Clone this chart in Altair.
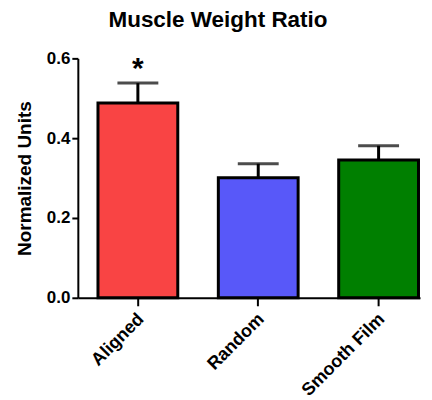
import altair as alt
import pandas as pd

categories = ["Aligned", "Random", "Smooth Film"]
means = [0.488, 0.301, 0.345]
errors = [0.050, 0.035, 0.036]
colors = ["#F94444", "#5858F9", "#007F00"]
marks = ["*", "", ""]

df = pd.DataFrame({
    "cat": categories,
    "mean": means,
    "upper": [m + e for m, e in zip(means, errors)],
    "sig": marks,
})

FONT = "Liberation Sans"

x = alt.X("cat:N", sort=categories, title=None,
          scale=alt.Scale(paddingInner=0.337, paddingOuter=0.09, align=0.93),
          axis=alt.Axis(labelAngle=-45, labelFontSize=18, labelFontWeight="bold",
                        labelColor="black", tickSize=8, tickWidth=2, tickColor="black",
                        domainColor="black", domainWidth=2, labelPadding=4,
                        labelOffset=-3, labelFont=FONT))

y_scale = alt.Scale(domain=[0, 0.6], nice=False)

base = alt.Chart(df)

bars = base.mark_bar(stroke="black", strokeWidth=3).encode(
    x=x,
    y=alt.Y("mean:Q", scale=y_scale, title="Normalized Units",
            axis=alt.Axis(values=[0, 0.2, 0.4, 0.6], format=".1f", grid=False,
                          labelFontSize=17, labelFontWeight="bold", labelColor="black",
                          labelFont=FONT, titleFont=FONT,
                          titleFontSize=19, titleFontWeight="bold", titleColor="black",
                          tickSize=6, tickWidth=2, tickColor="black",
                          domainColor="black", domainWidth=2, labelPadding=2,
                          titlePadding=12)),
    color=alt.Color("cat:N", scale=alt.Scale(domain=categories, range=colors), legend=None),
)

rules = base.mark_rule(color="black", strokeWidth=3).encode(
    x=alt.X("cat:N", sort=categories),
    y=alt.Y("mean:Q", scale=y_scale),
    y2="upper:Q",
)

caps = base.mark_tick(color="black", thickness=3, size=41).encode(
    x=alt.X("cat:N", sort=categories),
    y=alt.Y("upper:Q", scale=y_scale),
)

stars = base.mark_text(fontSize=30, fontWeight="bold", font=FONT, dy=-14, color="black").encode(
    x=alt.X("cat:N", sort=categories),
    y=alt.Y("upper:Q", scale=y_scale),
    text="sig:N",
)

chart = alt.layer(bars, rules, caps, stars).properties(
    width=343, height=240,
    title=alt.TitleParams("Muscle Weight Ratio", fontSize=22.5, fontWeight="bold",
                          font=FONT, color="black", dx=-31, offset=18),
    autosize=alt.AutoSizeParams(type="none"),
    padding={"left": 70, "top": 50, "right": 4, "bottom": 115},
).configure_view(strokeWidth=0)

chart.save("out.html", embed_options={"renderer": "svg", "actions": False})
